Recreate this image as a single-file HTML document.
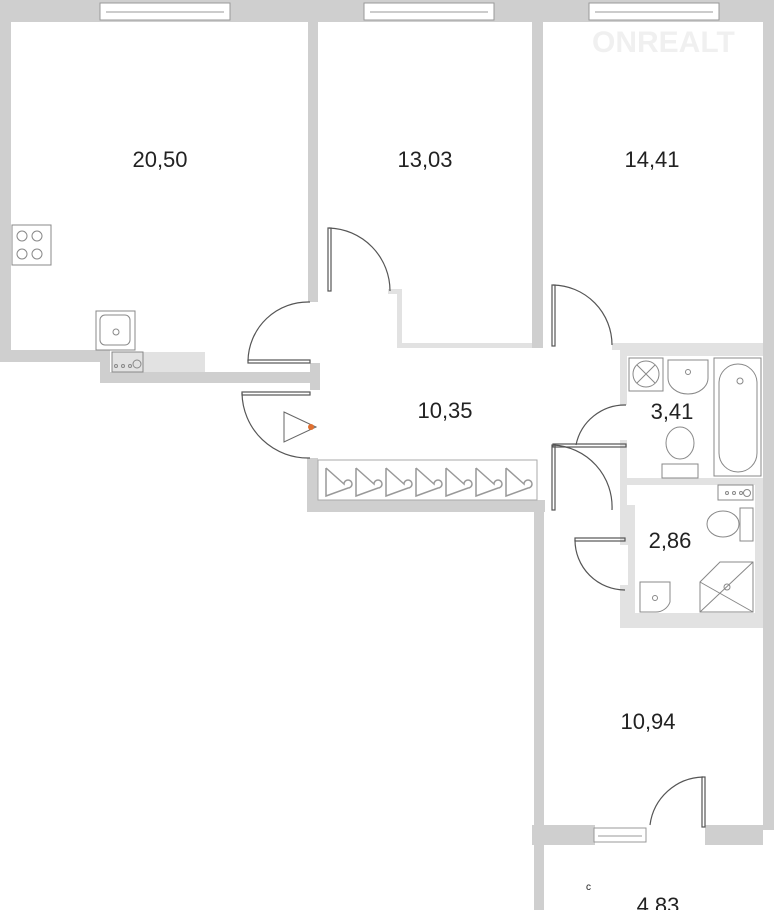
<!DOCTYPE html>
<html><head><meta charset="utf-8"><style>
html,body{margin:0;padding:0;background:#fff;}
svg{display:block;}
text{font-family:"Liberation Sans",sans-serif;font-size:22px;fill:#222;}
</style></head><body>
<svg width="774" height="910" viewBox="0 0 774 910" xmlns="http://www.w3.org/2000/svg">
<g fill="#cfcfcf">
<rect x="0" y="0" width="774" height="22"/>
<rect x="0" y="0" width="11" height="362"/>
<rect x="0" y="350" width="110" height="12"/>
<rect x="100" y="350" width="10" height="33"/>
<rect x="100" y="372" width="218" height="11"/>
<rect x="308" y="22" width="10" height="280"/>
<rect x="310" y="363" width="10" height="27"/>
<rect x="532" y="22" width="11" height="326"/>
<rect x="763" y="22" width="11" height="808"/>
<rect x="307" y="458" width="11" height="54"/>
<rect x="307" y="500" width="238" height="12"/>
<rect x="534" y="500" width="10" height="410"/>
<rect x="532" y="825" width="63" height="20"/>
<rect x="705" y="825" width="58" height="20"/>
</g>
<g fill="#e2e2e2">
<rect x="112" y="352" width="93" height="20"/>
<rect x="397" y="289" width="5" height="59"/>
<rect x="388" y="289" width="12" height="5"/>
<rect x="397" y="343" width="135" height="5"/>
<rect x="612" y="343" width="151" height="7"/>
<rect x="620" y="350" width="143" height="278"/>
</g>
<rect x="627" y="356" width="136" height="122" fill="#fff"/>
<rect x="635" y="485" width="120" height="128" fill="#fff"/>
<rect x="627" y="485" width="30" height="20" fill="#fff"/>
<rect x="620" y="405" width="8" height="35" fill="#fff"/>
<rect x="620" y="545" width="8" height="40" fill="#fff"/>
<g fill="#fff" stroke="#999" stroke-width="1">
<rect x="100" y="3" width="130" height="17"/><line x1="106" y1="12" x2="224" y2="12"/>
<rect x="364" y="3" width="130" height="17"/><line x1="370" y1="12" x2="488" y2="12"/>
<rect x="589" y="3" width="130" height="17"/><line x1="595" y1="12" x2="713" y2="12"/>
<rect x="594" y="828" width="52" height="14"/><line x1="598" y1="836" x2="642" y2="836"/>
</g>
<g fill="none" stroke="#555" stroke-width="1.2">
<path d="M329 228 A63 63 0 0 1 390 291"/><rect x="328" y="228" width="3" height="63"/>
<path d="M553 285 A60 60 0 0 1 612 345"/><rect x="552" y="285" width="3" height="61"/>
<path d="M310 302 A60 60 0 0 0 248 361"/><rect x="248" y="360" width="62" height="3"/>
<path d="M242 393 A66 66 0 0 0 310 458"/><rect x="242" y="392" width="68" height="3"/>
<path d="M626 405 A50 50 0 0 0 576 445"/><rect x="553" y="444" width="73" height="3"/>
<path d="M553 445 A62 62 0 0 1 612 510"/><rect x="552" y="445" width="3" height="65"/>
<path d="M575 540 A50 50 0 0 0 625 590"/>
<rect x="575" y="538" width="50" height="3"/>
<path d="M650 825 A55 55 0 0 1 703 777"/><rect x="702" y="777" width="3" height="50"/>
</g>
<rect x="318" y="460" width="219" height="40" fill="#fff" stroke="#aaa"/>
<g fill="none" stroke="#999" stroke-width="1.5">
<path d="M326 468 v28 l22 -8 a4 4 0 1 0 -4 -4 l-18 -16"/>
<path d="M356 468 v28 l22 -8 a4 4 0 1 0 -4 -4 l-18 -16"/>
<path d="M386 468 v28 l22 -8 a4 4 0 1 0 -4 -4 l-18 -16"/>
<path d="M416 468 v28 l22 -8 a4 4 0 1 0 -4 -4 l-18 -16"/>
<path d="M446 468 v28 l22 -8 a4 4 0 1 0 -4 -4 l-18 -16"/>
<path d="M476 468 v28 l22 -8 a4 4 0 1 0 -4 -4 l-18 -16"/>
<path d="M506 468 v28 l22 -8 a4 4 0 1 0 -4 -4 l-18 -16"/>
</g>
<g fill="none" stroke="#888" stroke-width="1">
<rect x="12" y="225" width="39" height="40"/>
<circle cx="22" cy="236" r="5"/><circle cx="37" cy="236" r="5"/><circle cx="22" cy="254" r="5"/><circle cx="37" cy="254" r="5"/>
<rect x="96" y="311" width="39" height="39"/><rect x="100" y="315" width="30" height="30" rx="5"/>
<circle cx="116" cy="332" r="3"/>
<rect x="112" y="352" width="31" height="20"/>
<circle cx="116" cy="366" r="1.5"/><circle cx="123" cy="366" r="1.5"/><circle cx="130" cy="366" r="1.5"/><circle cx="137" cy="364" r="4"/>
<rect x="629" y="358" width="34" height="33"/><circle cx="646" cy="374" r="13"/>
<path d="M637 365 l18 18 M655 365 l-18 18"/>
<path d="M668 360 h40 v18 a20 16 0 0 1 -40 0z"/><circle cx="688" cy="372" r="2.5"/>
<rect x="714" y="358" width="47" height="118"/><rect x="719" y="364" width="38" height="108" rx="19"/>
<circle cx="740" cy="381" r="3"/>
<ellipse cx="680" cy="443" rx="14" ry="16"/><rect x="662" y="464" width="36" height="14"/>
<rect x="718" y="485" width="35" height="15"/>
<circle cx="727" cy="493" r="1.5"/><circle cx="734" cy="493" r="1.5"/><circle cx="741" cy="493" r="1.5"/><circle cx="747" cy="493" r="3.5"/>
<ellipse cx="723" cy="524" rx="16" ry="13"/><rect x="740" y="508" width="13" height="33"/>
<path d="M640 582 h30 v20 a15 15 0 0 1 -15 10 h-15z"/><circle cx="655" cy="598" r="2.5"/>
<path d="M700 612 v-30 l20 -20 h33 v50z"/><path d="M700 612 l53 -50 M700 582 l53 30"/><circle cx="727" cy="587" r="3"/>
<path d="M284 412 L316 427 L284 442 Z" stroke="#666"/>
</g>
<circle cx="311" cy="427" r="3" fill="#e07030"/>
<text x="160" y="167" text-anchor="middle">20,50</text>
<text x="425" y="167" text-anchor="middle">13,03</text>
<text x="652" y="167" text-anchor="middle">14,41</text>
<text x="445" y="418" text-anchor="middle">10,35</text>
<text x="672" y="419" text-anchor="middle">3,41</text>
<text x="670" y="548" text-anchor="middle">2,86</text>
<text x="648" y="729" text-anchor="middle">10,94</text>
<text x="658" y="913" text-anchor="middle">4,83</text>
<text x="586" y="890" style="font-size:10px">с</text>
<text x="592" y="52" style="font-size:30px;font-weight:bold;fill:#f0f0f0">ONREALT</text>
</svg>
</body></html>
